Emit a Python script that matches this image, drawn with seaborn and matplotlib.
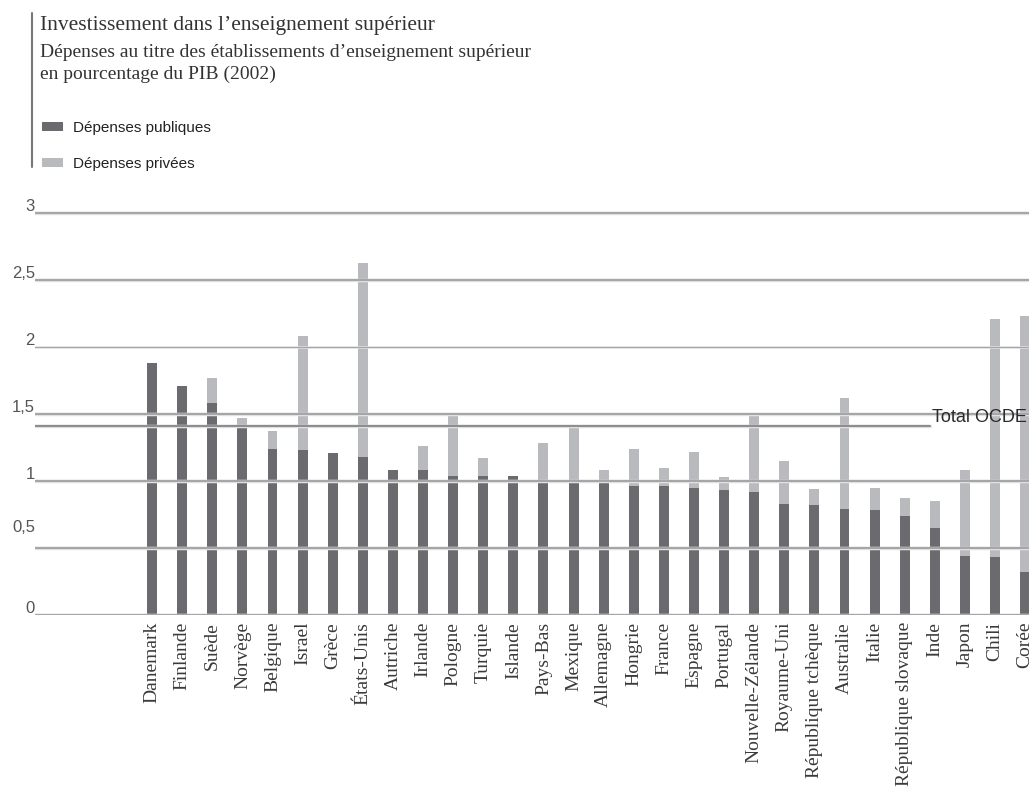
import matplotlib
matplotlib.use("Agg")
import matplotlib.pyplot as plt
from matplotlib.patches import Patch
from matplotlib.lines import Line2D
import seaborn as sns
import numpy as np

sns.set_theme(style="white")
plt.rcParams['font.family'] = ['Liberation Sans', 'DejaVu Sans']

# --- data (% du PIB, 2002) ---
pays = [
    "Danemark", "Finlande", "Suède", "Norvège", "Belgique", "Israel", "Grèce",
    "États-Unis", "Autriche", "Irlande", "Pologne", "Turquie", "Islande",
    "Pays-Bas", "Mexique", "Allemagne", "Hongrie", "France", "Espagne",
    "Portugal", "Nouvelle-Zélande", "Royaume-Uni", "République tchèque",
    "Australie", "Italie", "République slovaque", "Inde", "Japon", "Chili", "Corée"
]
publiques = [1.88, 1.71, 1.58, 1.40, 1.24, 1.23, 1.21, 1.18, 1.08, 1.08,
             1.04, 1.04, 1.04, 0.99, 0.99, 0.99, 0.96, 0.96, 0.95, 0.93,
             0.92, 0.83, 0.82, 0.79, 0.78, 0.74, 0.65, 0.44, 0.43, 0.32]
privees = [0.00, 0.00, 0.19, 0.07, 0.13, 0.85, 0.00, 1.45, 0.00, 0.18,
           0.47, 0.13, 0.00, 0.29, 0.41, 0.09, 0.28, 0.14, 0.27, 0.10,
           0.57, 0.32, 0.12, 0.83, 0.17, 0.13, 0.20, 0.64, 1.78, 1.91]
total_ocde = 1.41
y_ticks = [0, 0.5, 1, 1.5, 2, 2.5, 3]
y_labels = ["0", "0,5", "1", "1,5", "2", "2,5", "3"]

dark = "#6b6b6f"
light = "#b9babd"
grid = "#a6a6a8"
serif = ['Liberation Serif', 'DejaVu Serif']

totaux = np.array(publiques) + np.array(privees)

W, H = 1029, 789
fig = plt.figure(figsize=(W / 100, H / 100), dpi=100)
ax = fig.add_axes([35 / W, (H - 615) / H, 1 - 35 / W, (3.1 * 134) / H])

# stacked bars: total (light) then public part on top (dark)
sns.barplot(x=pays, y=totaux, color=light, saturation=1, width=0.33,
            linewidth=0, ax=ax, zorder=2)
sns.barplot(x=pays, y=publiques, color=dark, saturation=1, width=0.33,
            linewidth=0, ax=ax, zorder=2)

ax.set_ylim(0, 3.1)
ax.set_xlim(-3.89, 29.13)
for s in ax.spines.values():
    s.set_visible(False)
ax.set_yticks([])
ax.tick_params(axis="x", length=0, pad=5)
ax.set_xticks(range(len(pays)))
ax.set_xticklabels(pays, rotation=90, fontfamily=serif, fontsize=14, color="#3a3a3a")
ax.set_xlabel("")
ax.set_ylabel("")

# gridlines drawn over the bars, with a thin light halo
for v in y_ticks:
    lw = 0.9 if v == 2 else 1.6
    ax.axhline(v, color="#e8e8e8", lw=lw + 0.9, zorder=3)
    ax.axhline(v, color=grid, lw=lw, zorder=4)

# y labels sitting on the lines (0,5 sits a bit higher)
offsets = {0.5: 14}
for v, lab in zip(y_ticks, y_labels):
    ax.annotate(lab, (0, v), xycoords=ax.get_yaxis_transform(),
                xytext=(0, 2 + offsets.get(v, 0)), textcoords="offset pixels",
                ha="right", va="baseline", fontsize=12, color="#555555",
                annotation_clip=False)

# OCDE average line
ax.axhline(total_ocde, xmax=0.9, color="#e8e8e8", lw=2.5, zorder=3)
ax.axhline(total_ocde, xmax=0.9, color="#8e8e90", lw=1.6, zorder=4)
ax.annotate("Total OCDE", (0.902, total_ocde), xycoords=ax.get_yaxis_transform(),
            xytext=(0, 0), textcoords="offset pixels",
            ha="left", va="bottom", fontsize=13, color="#2a2a2a", zorder=5)

# header
fig.add_artist(Line2D([32 / W, 32 / W], [1 - 13 / H, 1 - 167 / H], color="#777777", lw=1.5))
fig.text(40 / W, 1 - 30 / H, "Investissement dans l\u2019enseignement supérieur",
         fontfamily=serif, fontsize=15.5, color="#333333", va="baseline")
fig.text(40 / W, 1 - 57 / H,
         "Dépenses au titre des établissements d\u2019enseignement supérieur",
         fontfamily=serif, fontsize=14, color="#333333", va="baseline")
fig.text(40 / W, 1 - 79 / H, "en pourcentage du PIB (2002)",
         fontfamily=serif, fontsize=14, color="#333333", va="baseline")

handles = [Patch(facecolor=dark, edgecolor="none", label="Dépenses publiques"),
           Patch(facecolor=light, edgecolor="none", label="Dépenses privées")]
fig.legend(handles=handles, loc="upper left", bbox_to_anchor=(42 / W, 1 - 121 / H),
           frameon=False, fontsize=11, handlelength=1.4, handleheight=0.5,
           handletextpad=0.6, labelspacing=1.45, borderpad=0, borderaxespad=0,
           labelcolor="#222222")

fig.savefig("out.png", dpi=100)
